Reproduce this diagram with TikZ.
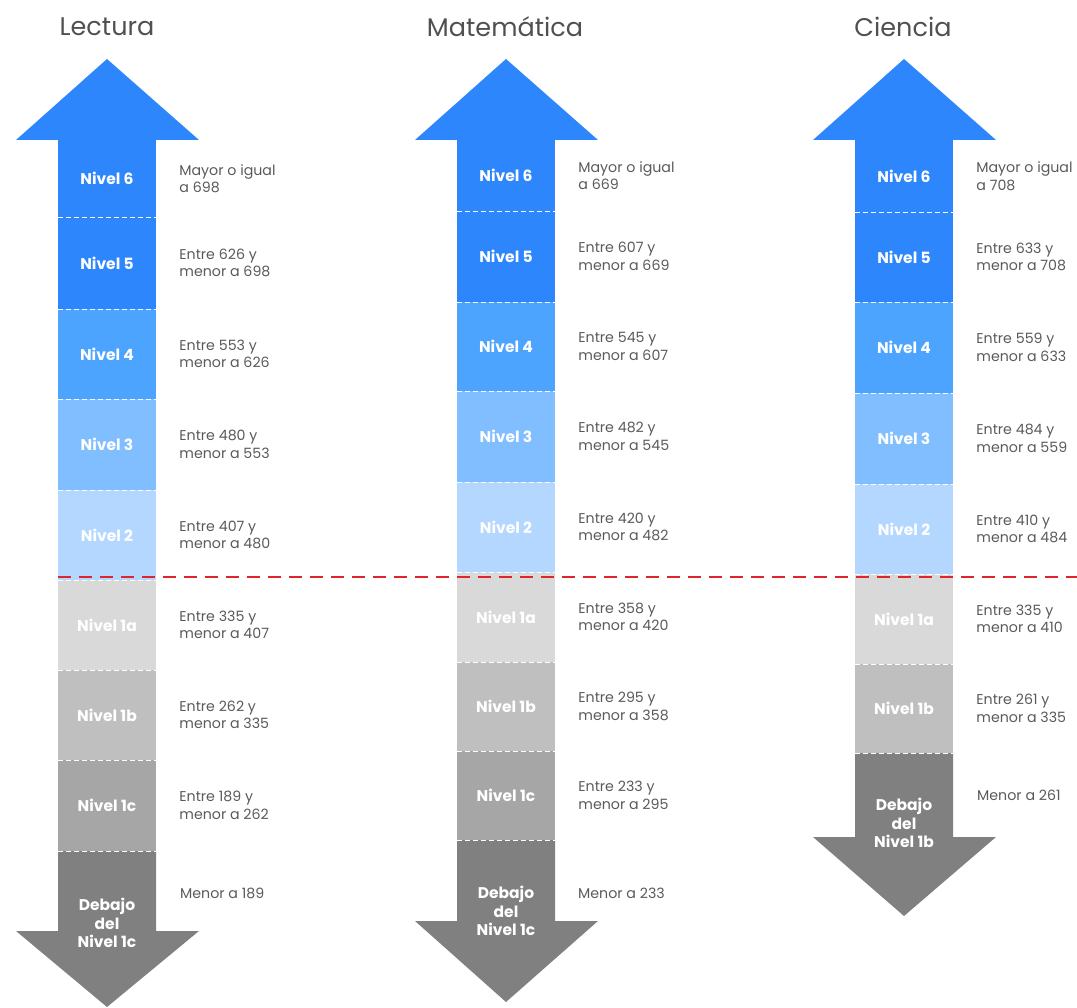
\documentclass[tikz,border=0pt]{standalone}
\usepackage{fontspec}
\setmainfont{Poppins}
\usetikzlibrary{positioning}
\definecolor{azulA}{HTML}{2E86FC}
\definecolor{azulB}{HTML}{4CA4FF}
\definecolor{azulC}{HTML}{80BEFF}
\definecolor{azulD}{HTML}{B3D7FF}
\definecolor{grisA}{HTML}{D9D9D9}
\definecolor{grisB}{HTML}{BFBFBF}
\definecolor{grisC}{HTML}{A6A6A6}
\definecolor{grisD}{HTML}{808080}
\definecolor{textogris}{HTML}{5A5A5A}
\definecolor{titulogris}{HTML}{505050}
\definecolor{rojo}{HTML}{E0242C}

\begin{document}
\begin{tikzpicture}[x=1pt,y=-1pt,
	nivel/.style={minimum width=98pt, inner sep=0pt, text=white, font=\bfseries\fontsize{15.5}{18}\selectfont},
	debajo/.style={nivel, align=center, font=\bfseries\fontsize{15.5}{18.5}\selectfont},
	rangotxt/.style={align=left, inner sep=0pt, text=textogris, font=\fontsize{14.2}{17.5}\selectfont},
	rango/.style={rangotxt, right=23pt of #1},
	titulo/.style={text=titulogris, font=\fontsize{25.5}{30}\selectfont},
	sep/.style={white, line width=0.8pt, dash pattern=on 5pt off 3pt},
	corte/.style={rojo, line width=1.6pt, dash pattern=on 13pt off 8pt}]
	\useasboundingbox (0,0) rectangle (1077,1008);
	
	% Lectura
	\node[titulo] (tlec) at (107,27) {Lectura};
	\fill[azulA] (16,140) -- (107,59) -- (199,140) -- cycle;
	\fill[grisD] (58,851) -- (58,931) -- (16,931) -- (107,1007) -- (199,931) -- (156,931) -- (156,851) -- cycle;
	\foreach \n/\yt/\yb/\col/\lab/\txt in {
		6/140/217/azulA/Nivel 6/{Mayor o igual\\a 698},
		5/217/309/azulA/Nivel 5/{Entre 626 y\\menor a 698},
		4/309/399/azulB/Nivel 4/{Entre 553 y\\menor a 626},
		3/399/490/azulC/Nivel 3/{Entre 480 y\\menor a 553},
		2/490/580/azulD/Nivel 2/{Entre 407 y\\menor a 480},
		1a/580/670/grisA/Nivel 1a/{Entre 335 y\\menor a 407},
		1b/670/760/grisB/Nivel 1b/{Entre 262 y\\menor a 335},
		1c/760/851/grisC/Nivel 1c/{Entre 189 y\\menor a 262}}{
		\node[nivel, fill=\col, minimum height={\yb-\yt}] (lec\n) at (107,{(\yt+\yb)/2}) {\lab};
		\node[rango=lec\n] (rlec\n) {\txt};
	}
	\foreach \n in {6,5,4,3,2,1a,1b,1c}
		\draw[sep] (lec\n.south west) -- (lec\n.south east);
	\node[debajo] (lecD) at (107,923) {Debajo\\del\\Nivel 1c};
	\node[rangotxt, anchor=west] (rlecD) at (180,893) {Menor a 189};
	
	% Matematica
	\node[titulo] (tmat) at (505,27) {Matemática};
	\fill[azulA] (415,140) -- (506,59) -- (598,140) -- cycle;
	\fill[grisD] (457,840) -- (457,921) -- (415,921) -- (506,1002) -- (598,921) -- (555,921) -- (555,840) -- cycle;
	\foreach \n/\yt/\yb/\col/\lab/\txt in {
		6/140/211/azulA/Nivel 6/{Mayor o igual\\a 669},
		5/211/302/azulA/Nivel 5/{Entre 607 y\\menor a 669},
		4/302/391/azulB/Nivel 4/{Entre 545 y\\menor a 607},
		3/391/482/azulC/Nivel 3/{Entre 482 y\\menor a 545},
		2/482/572/azulD/Nivel 2/{Entre 420 y\\menor a 482},
		1a/572/662/grisA/Nivel 1a/{Entre 358 y\\menor a 420},
		1b/662/751/grisB/Nivel 1b/{Entre 295 y\\menor a 358},
		1c/751/840/grisC/Nivel 1c/{Entre 233 y\\menor a 295}}{
		\node[nivel, fill=\col, minimum height={\yb-\yt}] (mat\n) at (506,{(\yt+\yb)/2}) {\lab};
		\node[rango=mat\n] (rmat\n) {\txt};
	}
	\foreach \n in {6,5,4,3,2,1a,1b,1c}
		\draw[sep] (mat\n.south west) -- (mat\n.south east);
	\node[debajo] (matD) at (506,911) {Debajo\\del\\Nivel 1c};
	\node[rangotxt, anchor=west] (rmatD) at (578,893) {Menor a 233};
	
	% Ciencia
	\node[titulo] (tcie) at (903,27) {Ciencia};
	\fill[azulA] (813,140) -- (904,59) -- (996,140) -- cycle;
	\fill[grisD] (855,753) -- (855,837) -- (813,837) -- (904,916) -- (996,837) -- (953,837) -- (953,753) -- cycle;
	\foreach \n/\yt/\yb/\col/\lab/\txt in {
		6/140/212/azulA/Nivel 6/{Mayor o igual\\a 708},
		5/212/302/azulA/Nivel 5/{Entre 633 y\\menor a 708},
		4/302/393/azulB/Nivel 4/{Entre 559 y\\menor a 633},
		3/393/484/azulC/Nivel 3/{Entre 484 y\\menor a 559},
		2/484/574/azulD/Nivel 2/{Entre 410 y\\menor a 484},
		1a/574/664/grisA/Nivel 1a/{Entre 335 y\\menor a 410},
		1b/664/753/grisB/Nivel 1b/{Entre 261 y\\menor a 335}}{
		\node[nivel, fill=\col, minimum height={\yb-\yt}] (cie\n) at (904,{(\yt+\yb)/2}) {\lab};
		\node[rango=cie\n] (rcie\n) {\txt};
	}
	\foreach \n in {6,5,4,3,2,1a,1b}
		\draw[sep] (cie\n.south west) -- (cie\n.south east);
	\node[debajo] (cieD) at (904,823) {Debajo\\del\\Nivel 1b};
	\node[rangotxt, anchor=west] (rcieD) at (977,795) {Menor a 261};
	
	% linea de corte
	\coordinate (fin) at (1077,577);
	\draw[corte] (lec2.west |- fin) -- (fin);
\end{tikzpicture}
\end{document}
